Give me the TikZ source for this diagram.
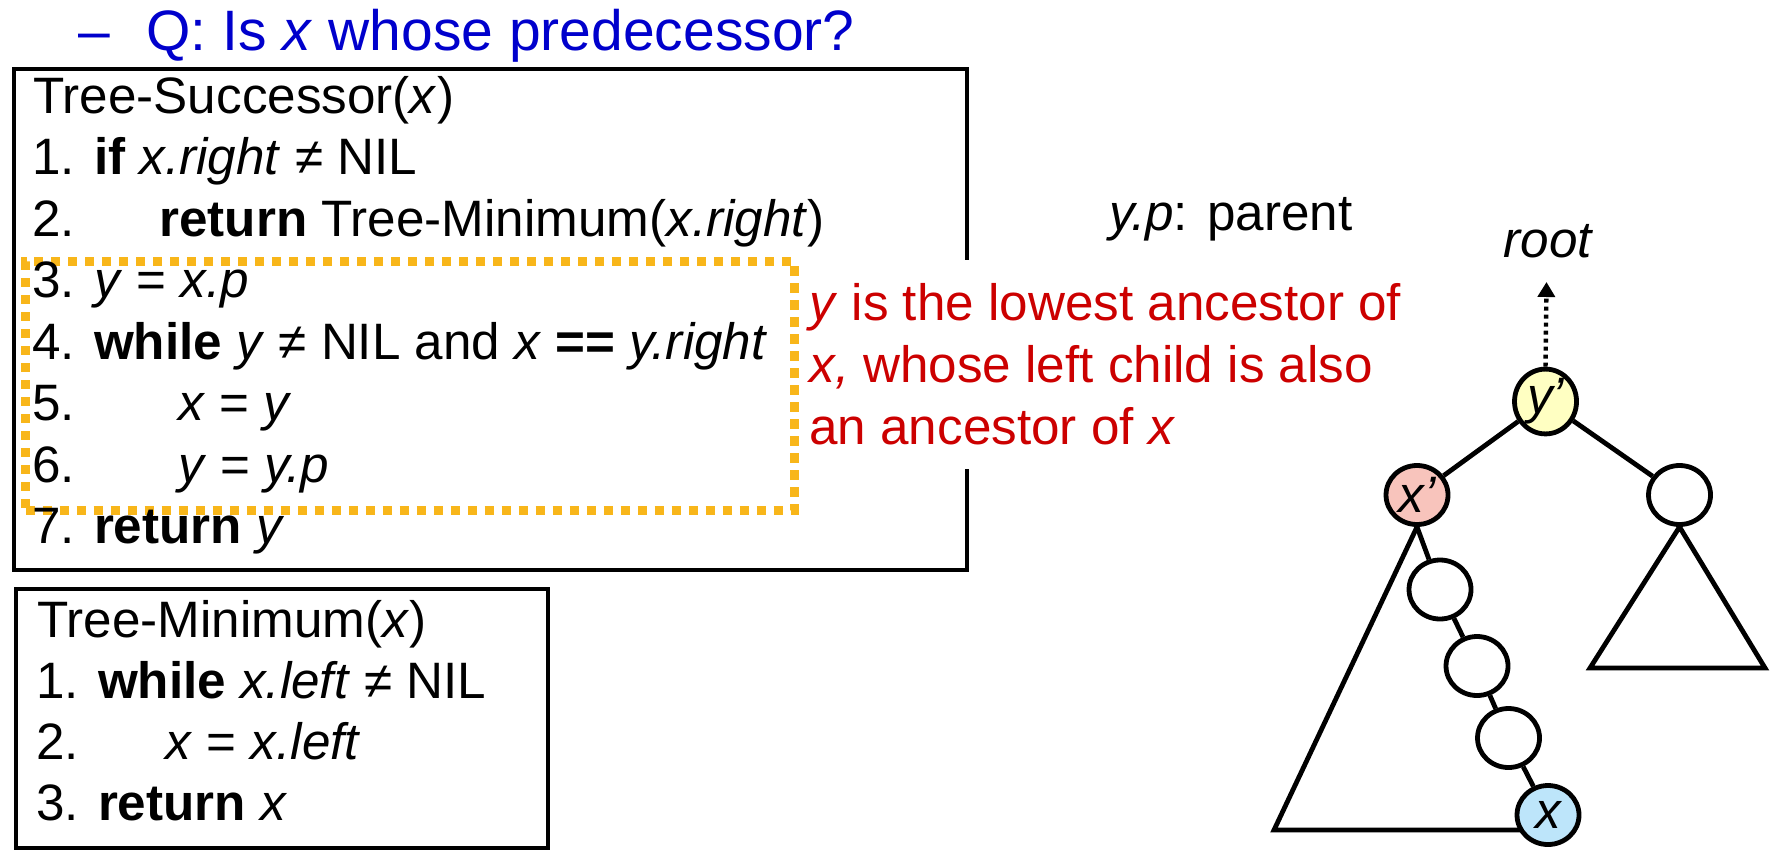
\documentclass[tikz,border=0pt]{standalone}
\usepackage{fontspec}
\setmainfont{Liberation Sans}
\usetikzlibrary{shapes.geometric,arrows.meta}
\definecolor{titleblue}{HTML}{0000CC}
\definecolor{notered}{HTML}{CC0000}
\definecolor{dotorange}{HTML}{F8B61A}
\definecolor{yfill}{HTML}{FFFFC2}
\definecolor{xpfill}{HTML}{F8C4BC}
\definecolor{xfill}{HTML}{BDE5FA}
\pgfdeclarelayer{background}
\pgfsetlayers{background,main}
\newcommand{\ind}[2]{\makebox[#1][l]{#2}}
\begin{document}
\begin{tikzpicture}[x=0.5pt,y=-0.5pt,
  txt/.style={anchor=base west, inner sep=0pt, font=\fontsize{25.6}{30.8}\selectfont},
  codebox/.style={draw, line width=2.2pt, anchor=north west, inner sep=0pt},
  loopbox/.style={draw=dotorange, line width=4.6pt, dash pattern=on 4.6pt off 3.9pt, anchor=north west, inner sep=0pt},
  tnode/.style={draw, ellipse, fill=white, line width=2.4pt, minimum width=31pt, minimum height=29.5pt, inner sep=0pt, font=\fontsize{25.6}{30}\selectfont\itshape},
  edge/.style={line width=2.4pt},
  rootarrow/.style={line width=2.2pt, dash pattern=on 2pt off 2pt, -{Triangle[width=8.5pt,length=7.5pt]}}]
\useasboundingbox (0,0) rectangle (1780,856);

% title
\node[txt, text=titleblue, font=\fontsize{28.5}{34}\selectfont] (dash) at (78,51) {–};
\node[txt, text=titleblue, font=\fontsize{28.5}{34}\selectfont] (title) at (146,51) {Q: Is \textit{x} whose predecessor?};

% Tree-Successor box
\node[codebox, minimum width=476.25pt, minimum height=250.5pt] (ts) at (12,67) {};
\node[loopbox, minimum width=384.25pt, minimum height=124.25pt] (loop) at (21,257) {};
\node[txt, anchor=west, fill=white, inner xsep=2pt, inner ysep=0pt, minimum height=104.5pt, align=left, text=notered, font=\fontsize{25.6}{31}\selectfont] (note) at (805,364.5)
  {\textit{y} is the lowest ancestor of\\\textit{x,} whose left child is also\\an ancestor of \textit{x}};

\node[txt] (t0) at (33,113) {Tree-Successor(\textit{x})};
\node[txt] (t1) at (32,174.5) {1. \textbf{if} \textit{x.right} ≠ NIL};
\node[txt] (t2) at (32,236) {\ind{63.5pt}{2.}\textbf{return} Tree-Minimum(\textit{x.right})};
\node[txt] (t3) at (32,297.5) {3. \textit{y} = \textit{x.p}};
\node[txt] (t4) at (32,359) {4. \textbf{while} \textit{y} ≠ NIL and \textit{x} \textbf{==} \textit{y.right}};
\node[txt] (t5) at (32,420.5) {\ind{73pt}{5.}\textit{x} = \textit{y}};
\node[txt] (t6) at (32,482) {\ind{73pt}{6.}\textit{y} = \textit{y.p}};
\node[txt] (t7) at (32,543.5) {7. \textbf{return} \textit{y}};

% Tree-Minimum box
\node[codebox, minimum width=266pt, minimum height=129.5pt] (tm) at (14,587) {};
\node[txt] (m0) at (37,637) {Tree-Minimum(\textit{x})};
\node[txt] (m1) at (36,698) {1. \textbf{while} \textit{x.left} ≠ NIL};
\node[txt] (m2) at (36,759) {\ind{64.5pt}{2.}\textit{x} = \textit{x.left}};
\node[txt] (m3) at (36,820) {3. \textbf{return} \textit{x}};

% legend
\node[txt] (ypar) at (1109,230) {\textit{y.p}: parent};
\node[txt, anchor=base, font=\fontsize{25.6}{30}\selectfont\itshape] (root) at (1548,257) {root};

% tree
\node[tnode, fill=yfill] (yq) at (1545.5,401.5) {y’};
\node[tnode, fill=xpfill] (xq) at (1417,495) {x’};
\node[tnode] (rc) at (1679.5,495) {};
\node[tnode] (c1) at (1440,589.5) {};
\node[tnode] (c2) at (1477,666) {};
\node[tnode] (c3) at (1508.5,738) {};
\node[tnode, fill=xfill] (xn) at (1548,815) {x};

\coordinate (tl) at (1274,830);
\coordinate (rbl) at (1590,668);
\coordinate (rbr) at (1765,668);
\coordinate (rtip) at (1546.5,282);

\begin{pgfonlayer}{background}
\draw[edge] (xq.south) -- (tl) -- (xn.center |- tl);
\draw[edge] (rc.south) -- (rbl) -- (rbr) -- cycle;
\end{pgfonlayer}

\draw[edge] (yq) -- (xq);
\draw[edge] (yq) -- (rc);
\draw[edge] (xq.south) -- (c1);
\draw[edge] (c1) -- (c2);
\draw[edge] (c2) -- (c3);
\draw[edge] (c3) -- (xn);
\draw[rootarrow] (yq.north) -- (rtip);
\end{tikzpicture}
\end{document}
